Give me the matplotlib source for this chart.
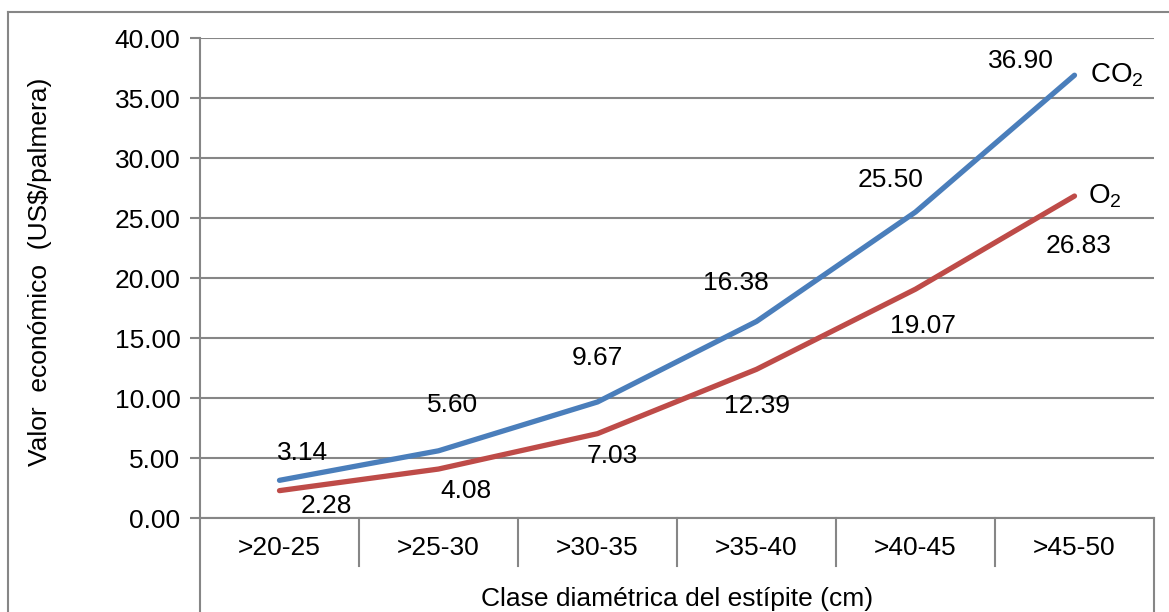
import matplotlib.pyplot as plt
from matplotlib.lines import Line2D
import numpy as np

plt.rcParams['font.family'] = ['Liberation Sans', 'DejaVu Sans']
plt.rcParams['mathtext.fontset'] = 'custom'
plt.rcParams['mathtext.rm'] = 'Liberation Sans'
plt.rcParams['mathtext.it'] = 'Liberation Sans:italic'

clases = ['>20-25', '>25-30', '>30-35', '>35-40', '>40-45', '>45-50']
co2 = [3.14, 5.60, 9.67, 16.38, 25.50, 36.90]
o2 = [2.28, 4.08, 7.03, 12.39, 19.07, 26.83]

# pixel offsets of each value label's baseline centre from its point (dx right, dy up)
co2_off = [(23, 20), (14, 39), (0, 37), (-21, 31), (-25, 25), (-54, 7)]
o2_off = [(47, -22), (27, -29), (15, -29), (1, -44), (8, -44), (4, -57)]

BLUE = '#4a7ebb'
RED = '#be4b48'
GRID = '#868686'
W, H = 1169, 612
FS = 19
PX = 0.72  # points per pixel at 100 dpi

fig = plt.figure(figsize=(W / 100, H / 100), dpi=100)
ax = fig.add_axes([200 / W, (H - 518) / H, 954 / W, 480 / H])

x = np.arange(len(clases))
ax.set_xlim(-0.5, len(clases) - 0.5)
ax.set_ylim(0, 40)
ax.set_yticks(np.arange(0, 40.1, 5))
ax.set_yticklabels(['%.2f' % v for v in np.arange(0, 40.1, 5)])
ax.yaxis.grid(True, color=GRID, lw=1.5)
ax.set_axisbelow(True)
ax.tick_params(axis='y', length=7, width=1.5, color=GRID, labelsize=FS, pad=7)
ax.set_xticks(x)
ax.set_xticklabels(clases)
ax.tick_params(axis='x', length=0, labelsize=FS, pad=13)
for s in ['top', 'right']:
    ax.spines[s].set_visible(False)
for s in ['left', 'bottom']:
    ax.spines[s].set_color(GRID)
    ax.spines[s].set_linewidth(1.5)

# category boxes under the axis
trans = ax.get_xaxis_transform()
for b in np.arange(0.5, len(clases) - 1, 1.0):
    ax.plot([b, b], [0, -48 / 480], color=GRID, lw=1.5, transform=trans, clip_on=False)
for b in [-0.5, len(clases) - 0.5]:
    ax.plot([b, b], [0, -0.2], color=GRID, lw=1.5, transform=trans, clip_on=False)

ax.plot(x, o2, color=RED, lw=3.8, solid_capstyle='round', solid_joinstyle='round', zorder=3)
ax.plot(x, co2, color=BLUE, lw=3.8, solid_capstyle='round', solid_joinstyle='round', zorder=3)

for vals, offs in [(co2, co2_off), (o2, o2_off)]:
    for xi, v, (dx, dy) in zip(x, vals, offs):
        ax.annotate('%.2f' % v, (xi, v), xytext=(dx * PX, dy * PX),
                    textcoords='offset points', ha='center', va='baseline', fontsize=FS)

ax.annotate('CO$_2$', (x[-1], co2[-1]), xytext=(16 * PX, -7 * PX), textcoords='offset points',
            ha='left', va='baseline', fontsize=FS + 1)
ax.annotate('O$_2$', (x[-1], o2[-1]), xytext=(14 * PX, -7 * PX), textcoords='offset points',
            ha='left', va='baseline', fontsize=FS + 1)

fig.text(677 / W, 1 - 599 / H, 'Clase diamétrica del estípite (cm)',
         ha='center', va='center', fontsize=FS)
fig.text(40 / W, 1 - 272 / H, 'Valor  económico  (US$/palmera)', rotation=90,
         ha='center', va='center', fontsize=FS)

# outer frame
fig.add_artist(Line2D([8 / W, 8 / W], [0, 1 - 12 / H], color=GRID, lw=1.5))
fig.add_artist(Line2D([8 / W, 1], [1 - 12 / H, 1 - 12 / H], color=GRID, lw=1.5))

fig.savefig('out.png', dpi=100)
